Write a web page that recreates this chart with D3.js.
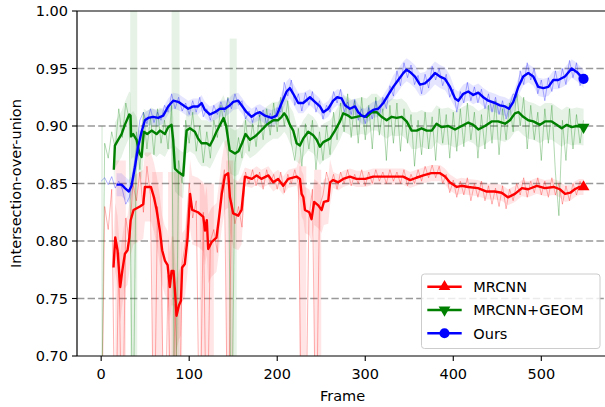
<!DOCTYPE html>
<html><head><meta charset="utf-8">
<script src="https://cdn.jsdelivr.net/npm/d3@7"></script>
<style>body{margin:0;background:#fff}text{font-family:"DejaVu Sans",sans-serif}</style>
</head><body><svg id="c" width="605" height="407"></svg>
<script>
const xTicks=[0,100,200,300,400,500];
const yTicks=[0.70,0.75,0.80,0.85,0.90,0.95,1.00];
const seriesNames=["MRCNN","MRCNN+GEOM","Ours"];
const seriesColors=["#ff0000","#008000","#0000ff"];
const rawStep=4; // raw samples every 4 frames, in thousandths of IoU
const redRaw=[600,830,810,845,600,790,600,820,800,850,
835,860,825,865,840,600,830,790,600,770,
600,745,600,780,800,850,820,835,600,825,
600,800,810,790,845,862,600,835,815,830,
812,860,850,862,848,860,845,862,850,858,
845,860,842,858,850,862,850,600,600,820,
845,600,830,840,860,848,858,845,860,850,
862,848,858,850,862,848,860,850,862,852,
860,850,862,852,860,850,862,848,858,850,
862,852,865,855,866,855,865,850,858,842,
853,838,852,840,855,835,850,838,852,835,
848,832,846,830,848,828,845,835,850,840,
855,838,852,842,855,840,852,838,855,840,
850,832,848,835,850,840,852,845];
const greenRaw=[600,885,872,895,880,915,890,920,905,600,
895,862,912,880,908,875,915,885,905,880,
918,600,870,850,905,885,912,878,900,868,
895,872,905,890,918,900,925,600,868,890,
872,905,878,902,882,910,888,915,892,920,
895,925,900,922,885,870,898,865,902,880,
905,862,895,870,900,875,912,888,920,895,
928,890,922,885,925,888,918,880,925,892,
915,870,918,885,920,878,915,885,910,865,
905,875,912,880,908,870,915,885,910,872,
912,878,915,882,920,888,912,872,910,880,
918,885,922,875,915,888,920,895,930,900,
925,880,918,888,912,870,915,885,918,860,
822,905,870,915,880,910,885,905];
const blueRaw=[852,855,849,856,846,852,845,832,838,858,
880,905,912,902,915,903,912,905,918,912,
928,915,925,913,920,910,922,912,925,908,
915,905,918,910,921,912,924,915,928,918,
922,906,913,903,916,908,914,902,911,904,
916,912,938,926,940,918,928,913,929,918,
930,912,922,906,918,912,930,920,932,912,
921,910,923,905,915,902,916,906,922,909,
925,915,935,926,948,935,955,942,953,936,
944,928,945,933,952,940,950,935,945,925,
932,912,930,920,938,922,934,920,932,915,
928,912,925,910,922,906,918,928,925,948,
936,955,940,950,928,940,922,942,930,948,
933,950,936,957,942,955,935,945];

const redSmooth=[[14,0.777],[16,0.803],[18.6,0.792],[21.6,0.760],[24,0.774],[27,0.789],[30,0.792],[32,0.803],[33.5,0.818],[36.8,0.827],[44,0.830],[47.8,0.832],[49.7,0.847],[56.5,0.847],[60,0.838],[63,0.827],[66.7,0.809],[69.3,0.792],[72.4,0.783],[75.5,0.779],[78,0.760],[80,0.774],[82.2,0.774],[83.8,0.757],[85.6,0.735],[88.3,0.744],[90.6,0.748],[92,0.777],[95,0.780],[98.2,0.803],[101,0.841],[103.4,0.827],[110,0.825],[116,0.821],[118,0.809],[120,0.818],[121.6,0.793],[125.4,0.799],[131,0.803],[134,0.821],[137,0.841],[140.6,0.857],[144.3,0.859],[146.3,0.838],[150,0.824],[155.7,0.822],[159.5,0.827],[163.3,0.856],[171,0.854],[176.6,0.857],[182,0.854],[190,0.857],[195.5,0.851],[201,0.854],[206.8,0.848],[212.5,0.854],[222,0.856],[225.8,0.854],[227.7,0.841],[229.7,0.838],[231.5,0.827],[236.4,0.825],[239,0.819],[242,0.834],[246.6,0.831],[250.5,0.827],[253,0.834],[258,0.835],[260,0.851],[263.6,0.853],[269.3,0.851],[275,0.854],[282.6,0.856],[290,0.854],[300,0.854],[309,0.856],[320,0.856],[332,0.856],[343,0.856],[351,0.853],[358,0.855],[366,0.857],[375,0.859],[385,0.859],[390.6,0.856],[396,0.851],[404,0.847],[409.5,0.848],[417,0.847],[428,0.846],[438,0.843],[447,0.843],[455,0.842],[462,0.838],[470,0.841],[478,0.846],[485,0.845],[495,0.848],[504,0.846],[514,0.847],[521,0.845],[527,0.841],[533,0.842],[538,0.845],[543,0.847],[548,0.847]];
const greenSmooth=[[14.4,0.862],[15.6,0.883],[19.3,0.888],[23.2,0.893],[26.9,0.901],[31.9,0.910],[33.4,0.909],[34,0.891],[36.4,0.893],[40.2,0.888],[43.2,0.877],[45.9,0.873],[48.5,0.895],[52.3,0.893],[57.3,0.896],[62.9,0.893],[66.7,0.896],[72.4,0.893],[76.1,0.899],[80,0.901],[81.8,0.888],[83.8,0.863],[87.6,0.860],[93.2,0.857],[95.1,0.877],[97,0.896],[100.8,0.898],[106.5,0.895],[110.2,0.889],[114,0.885],[119.8,0.885],[123.5,0.883],[127,0.888],[131,0.895],[135,0.901],[139,0.907],[142,0.900],[146,0.879],[152,0.876],[156,0.878],[160,0.885],[164,0.893],[169,0.888],[175,0.891],[180.3,0.895],[188,0.901],[195.5,0.905],[201,0.905],[205,0.908],[208,0.911],[210.7,0.908],[214.4,0.901],[218.2,0.896],[222,0.885],[225.8,0.883],[229.5,0.889],[235.2,0.895],[240.9,0.892],[244.8,0.888],[248.5,0.882],[252.3,0.886],[260,0.889],[265.6,0.896],[271.3,0.904],[275,0.911],[280.7,0.909],[284.5,0.907],[290.2,0.908],[295.9,0.909],[301.6,0.908],[307.3,0.912],[313,0.912],[318.6,0.908],[324.3,0.905],[330,0.908],[335.7,0.907],[341.4,0.908],[347,0.904],[352.7,0.896],[358.4,0.896],[364,0.898],[369.8,0.896],[375.5,0.896],[381,0.902],[386.8,0.899],[394.3,0.900],[402,0.897],[409.5,0.900],[417,0.903],[422.7,0.901],[428.4,0.897],[436,0.900],[443.6,0.904],[451,0.904],[458.8,0.902],[464.4,0.905],[470,0.911],[474,0.912],[479.5,0.908],[485.2,0.905],[491,0.904],[498.5,0.901],[504.2,0.904],[511.8,0.904],[517.5,0.901],[523.2,0.898],[529,0.901],[534.5,0.899],[540.2,0.900],[548,0.899]];
const blueSmooth=[[17.5,0.849],[23.2,0.849],[27,0.846],[31.5,0.843],[34.5,0.848],[38.3,0.864],[42,0.882],[45.9,0.895],[49.7,0.905],[53.4,0.907],[59.1,0.908],[64.8,0.907],[70.5,0.909],[76.1,0.917],[81.8,0.922],[87.5,0.921],[93.2,0.918],[98.9,0.915],[104.5,0.917],[110.2,0.917],[114.1,0.920],[117.8,0.914],[123.5,0.910],[129.2,0.912],[134.9,0.915],[140.6,0.915],[146.3,0.918],[150,0.921],[155.7,0.922],[159.5,0.918],[165.2,0.912],[170.9,0.908],[176.6,0.911],[180.3,0.912],[186,0.909],[193.6,0.907],[199.3,0.909],[205,0.920],[210.7,0.930],[214.4,0.933],[218.2,0.928],[223.9,0.920],[229.5,0.920],[237.2,0.925],[242.8,0.921],[248.5,0.917],[252.3,0.912],[258,0.915],[263.6,0.922],[268.2,0.925],[273.2,0.924],[277,0.918],[282.6,0.915],[288.3,0.917],[292,0.912],[295.9,0.909],[299.7,0.908],[303.4,0.911],[309,0.914],[314.8,0.915],[320.5,0.920],[326.1,0.927],[331.8,0.934],[337.5,0.940],[343.2,0.946],[347,0.949],[350.8,0.947],[356.5,0.943],[362.2,0.936],[367.8,0.937],[373.5,0.941],[379.2,0.946],[384.9,0.943],[390.6,0.941],[396.3,0.934],[402,0.924],[405.7,0.922],[411.4,0.928],[417,0.930],[422.7,0.927],[428.4,0.929],[434.1,0.925],[439.8,0.922],[447.4,0.920],[453,0.918],[458.8,0.917],[463.3,0.915],[468.2,0.921],[473.9,0.934],[479.5,0.943],[485.2,0.946],[490.9,0.943],[496.6,0.934],[502.3,0.933],[508,0.934],[513.6,0.940],[519.3,0.940],[526.9,0.943],[534.5,0.950],[540.2,0.947],[548,0.941]];

// band half-widths (stepwise from the given frame on)
const redBandHalf=[[0,0.03],[160,0.008],[224,0.02],[262,0.007]];
const greenBandHalf=[[0,0.02],[160,0.016]];
const blueBandHalf=[[0,0.01],[45,0.007],[200,0.009],[230,0.007],[330,0.01],[400,0.008]];
// tall band columns where detections failed: [from, to, low, high]
const redBandSpikes=[[16,28,0.60,0.87],[58,70,0.60,0.86],[76,92,0.60,0.86],[112,128,0.60,0.85],[142,150,0.60,0.87],[225,233,0.60,0.865],[242,250,0.60,0.862]];
const greenBandSpikes=[[0,2,0.60,0.90],[33,41,0.60,1.02],[80,89,0.60,1.02],[146,154,0.60,0.976]];

const W=605,H=407;
const L=77,T=11,B=356,R=608.6;
const svg=d3.select("#c");
const x=d3.scaleLinear().domain([-27.45,576.45]).range([L,R]);
const y=d3.scaleLinear().domain([0.70,1.00]).range([B,T]);

svg.append("defs").append("clipPath").attr("id","clip").append("rect")
 .attr("x",L).attr("y",T).attr("width",R-L).attr("height",B-T);

// grid
svg.append("g").selectAll("line").data(yTicks.slice(1,-1)).join("line")
 .attr("x1",L).attr("x2",W).attr("y1",d=>y(d)).attr("y2",d=>y(d))
 .attr("stroke","#999").attr("stroke-width",1.4).attr("stroke-dasharray","7.4,3.2");

const plot=svg.append("g").attr("clip-path","url(#clip)");

function halfAt(sched,f){let h=sched[0][1];for(const s of sched){if(f>=s[0])h=s[1];}return h;}
const series=[
 {raw:redRaw,sm:redSmooth,half:redBandHalf,spikes:redBandSpikes},
 {raw:greenRaw,sm:greenSmooth,half:greenBandHalf,spikes:greenBandSpikes},
 {raw:blueRaw,sm:blueSmooth,half:blueBandHalf,spikes:[]}
];
const area=d3.area().x(d=>x(d[0])).y0(d=>y(d[1]-d[2])).y1(d=>y(d[1]+d[2]));
series.forEach((s,i)=>{
 const c=seriesColors[i];
 const bd=s.sm.map(p=>[p[0],p[1],halfAt(s.half,p[0])]);
 plot.append("path").datum(bd).attr("d",area).attr("fill",c).attr("fill-opacity",0.1);
 plot.append("g").selectAll("rect").data(s.spikes).join("rect")
  .attr("x",d=>x(d[0])).attr("width",d=>x(d[1])-x(d[0]))
  .attr("y",d=>y(d[3])).attr("height",d=>y(d[2])-y(d[3]))
  .attr("fill",c).attr("fill-opacity",0.1);
});
const line=d3.line().x(d=>x(d[0])).y(d=>y(d[1]));
series.forEach((s,i)=>{
 const pts=s.raw.map((v,k)=>[k*rawStep,v/1000]);
 plot.append("path").datum(pts).attr("d",line).attr("fill","none")
  .attr("stroke",seriesColors[i]).attr("stroke-opacity",0.3).attr("stroke-width",1);
});
series.forEach((s,i)=>{
 plot.append("path").datum(s.sm).attr("d",line).attr("fill","none")
  .attr("stroke",seriesColors[i]).attr("stroke-width",2.4).attr("stroke-linejoin","round");
});
const syms=[d3.symbol().type(d3.symbolTriangle).size(60),d3.symbol().type(d3.symbolTriangle).size(60),d3.symbol().type(d3.symbolCircle).size(80)];
function marker(g,i,cx,cy){
 g.append("path").attr("d",syms[i]()).attr("fill",seriesColors[i])
  .attr("transform",`translate(${cx},${cy})`+(i===1?" rotate(180)":""));
}
series.forEach((s,i)=>{const p=s.sm[s.sm.length-1];marker(svg,i,x(p[0]),y(p[1]));});

// spines
svg.append("line").attr("x1",L).attr("x2",L).attr("y1",T).attr("y2",B).attr("stroke","#000").attr("stroke-width",1.2);
svg.append("line").attr("x1",L).attr("x2",W).attr("y1",T).attr("y2",T).attr("stroke","#000").attr("stroke-width",1.2);
svg.append("line").attr("x1",L).attr("x2",W).attr("y1",B).attr("y2",B).attr("stroke","#000").attr("stroke-width",1.2);

// axes ticks
const fs=14.5;
const xg=svg.append("g");
xTicks.forEach(t=>{
 xg.append("line").attr("x1",x(t)).attr("x2",x(t)).attr("y1",B).attr("y2",B+5).attr("stroke","#000").attr("stroke-width",1.1);
 xg.append("text").attr("x",x(t)).attr("y",B+23).attr("text-anchor","middle").attr("font-size",fs).text(t);
});
const yg=svg.append("g");
yTicks.forEach(t=>{
 yg.append("line").attr("x1",L-5).attr("x2",L).attr("y1",y(t)).attr("y2",y(t)).attr("stroke","#000").attr("stroke-width",1.1);
 yg.append("text").attr("x",L-9).attr("y",y(t)).attr("dy","0.36em").attr("text-anchor","end").attr("font-size",fs).text(d3.format(".2f")(t));
});
svg.append("text").attr("x",342.5).attr("y",401).attr("text-anchor","middle").attr("font-size",fs).text("Frame");
svg.append("text").attr("transform",`translate(21,${(T+B)/2}) rotate(-90)`).attr("text-anchor","middle").attr("font-size",fs).text("Intersection-over-union");

// legend
const lg=svg.append("g");
lg.append("rect").attr("x",421.5).attr("y",274).attr("width",178.5).attr("height",74.5).attr("rx",3)
 .attr("fill","#fff").attr("fill-opacity",0.8).attr("stroke","#ccc").attr("stroke-width",1);
seriesNames.forEach((n,i)=>{
 const yy=286.7+i*23.3;
 lg.append("line").attr("x1",427.3).attr("x2",461.7).attr("y1",yy).attr("y2",yy).attr("stroke",seriesColors[i]).attr("stroke-width",2.4);
 marker(lg,i,444.5,yy);
 lg.append("text").attr("x",473.3).attr("y",yy).attr("dy","0.36em").attr("font-size",fs).text(n);
});
</script></body></html>
